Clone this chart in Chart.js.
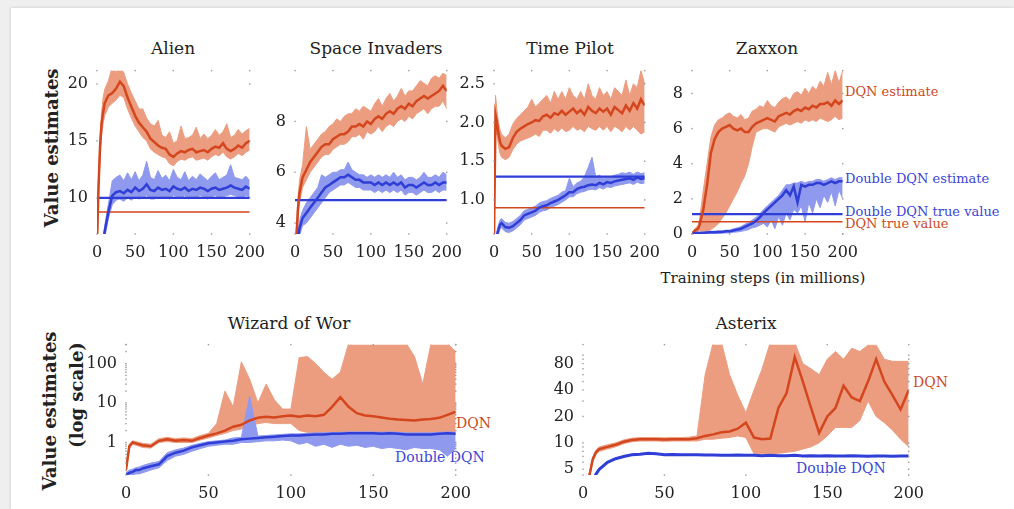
<!DOCTYPE html>
<html>
<head>
<meta charset="utf-8">
<script src="https://cdn.jsdelivr.net/npm/chart.js@4.4.1/dist/chart.umd.min.js"></script>
<style>
html, body { margin: 0; padding: 0; }
body { width: 1014px; height: 509px; background: #efefef; position: relative; overflow: hidden;
       font-family: 'DejaVu Serif', serif; color: #222; }
#card { position: absolute; left: 11px; top: 8px; right: 0; bottom: 0; background: #fff;
        box-shadow: 0 0 3px rgba(0,0,0,0.18); }
canvas { position: absolute; }
.t { position: absolute; white-space: nowrap; transform: translate(-50%, -50%); font-size: 17px; }
.l { position: absolute; white-space: nowrap; transform: translateY(-50%); }
.v { position: absolute; white-space: nowrap; transform: translate(-50%, -50%) rotate(-90deg);
     font-weight: bold; font-size: 18px; }
.red { color: #cc4a24; }
.blue { color: #3b45d6; }
</style>
</head>
<body>
<div id="card"></div>

<div class="t" style="left:173px;top:48px">Alien</div>
<div class="t" style="left:376px;top:48px">Space Invaders</div>
<div class="t" style="left:570px;top:48px">Time Pilot</div>
<div class="t" style="left:767px;top:48px">Zaxxon</div>
<div class="t" style="left:289px;top:323px">Wizard of Wor</div>
<div class="t" style="left:746px;top:323px">Asterix</div>

<div class="v" style="left:51px;top:148px">Value estimates</div>
<div class="v" style="left:49px;top:411px">Value estimates</div>
<div class="v" style="left:76px;top:395px;font-weight:bold">(log scale)</div>

<div class="l red" style="left:845px;top:91px;font-size:13px">DQN estimate</div>
<div class="l blue" style="left:845px;top:178px;font-size:13px">Double DQN estimate</div>
<div class="l blue" style="left:845px;top:211px;font-size:13px">Double DQN true value</div>
<div class="l red" style="left:845px;top:223px;font-size:13px">DQN true value</div>
<div class="t" style="left:763px;top:278px;font-size:15px">Training steps (in millions)</div>

<div class="l red" style="left:456px;top:423px;font-size:14px">DQN</div>
<div class="l blue" style="left:395px;top:457px;font-size:14px">Double DQN</div>
<div class="l red" style="left:913px;top:382px;font-size:14px">DQN</div>
<div class="l blue" style="left:796px;top:468px;font-size:14px">Double DQN</div>

<script>
// training steps (millions)
const steps = [0, 2, 4, 6, 8,
  10, 15, 20, 25, 30, 35, 40, 45, 50,
  55, 60, 65, 70, 75, 80, 85, 90, 95, 100,
  105, 110, 115, 120, 125, 130, 135, 140, 145, 150,
  155, 160, 165, 170, 175, 180, 185, 190, 195, 200];
const xTicks = [0, 50, 100, 150, 200];

// Alien
const alienDqn = [6.0, 11.0, 14.5, 16.5, 17.5,
  18.3, 19.0, 19.2, 19.6, 20.2, 19.8, 18.8, 18.0, 17.2,
  16.6, 16.2, 15.8, 15.2, 14.9, 14.6, 14.4, 14.3, 13.8, 13.6,
  13.9, 14.1, 14.0, 14.2, 14.3, 14.0, 14.1, 14.2, 14.0, 14.3,
  14.5, 14.4, 14.8, 14.3, 14.1, 14.3, 14.6, 14.4, 14.8, 15.0];
const alienDqnHi = [6.5, 12.0, 15.5, 17.5, 18.8,
  19.5, 20.3, 21.5, 21.0, 21.5, 21.0, 20.0, 19.2, 18.5,
  17.8, 17.8, 17.0, 16.5, 16.3, 16.8, 15.5, 15.3, 15.8, 14.8,
  15.0, 16.3, 15.2, 15.3, 15.5, 16.2, 15.2, 15.6, 15.2, 15.5,
  16.0, 15.5, 15.8, 16.5, 15.3, 15.5, 16.0, 15.6, 15.9, 16.1];
const alienDqnLo = [5.5, 10.0, 13.5, 15.5, 16.5,
  17.2, 18.0, 18.3, 18.6, 19.0, 18.8, 17.8, 17.0, 16.3,
  15.8, 15.3, 15.0, 14.3, 14.0, 13.8, 13.6, 13.5, 13.0, 12.8,
  13.2, 13.4, 13.3, 13.5, 13.6, 13.3, 13.4, 13.5, 13.3, 13.6,
  13.8, 13.7, 14.0, 13.6, 13.4, 13.6, 13.9, 13.7, 14.0, 14.2];
const alienDdqn = [2.0, 3.0, 4.0, 5.0, 6.0,
  7.0, 8.8, 10.2, 10.5, 10.6, 10.4, 10.7, 10.5, 10.9,
  10.6, 10.8, 11.2, 10.7, 10.6, 10.9, 10.7, 10.8, 10.6, 11.0,
  10.8, 10.7, 10.9, 10.6, 10.8, 10.7, 10.9, 10.8, 10.6, 10.8,
  10.9, 10.7, 10.8, 10.9, 11.1, 10.9, 10.8, 10.7, 11.0, 10.8];
const alienDdqnHi = [2.5, 3.5, 4.5, 5.5, 6.5,
  7.5, 9.5, 11.5, 11.8, 12.0, 11.5, 12.2, 11.6, 12.3,
  11.5, 12.0, 13.2, 11.8, 11.6, 12.4, 11.7, 12.0, 11.5, 12.5,
  11.8, 11.6, 12.3, 11.5, 11.9, 11.6, 12.1, 11.8, 11.5, 11.9,
  12.2, 11.6, 11.8, 12.0, 12.9, 11.8, 11.7, 11.6, 11.9, 11.5];
const alienDdqnLo = [1.5, 2.5, 3.5, 4.5, 5.5,
  6.5, 8.2, 9.4, 9.8, 9.9, 9.7, 10.0, 9.8, 10.1,
  9.9, 10.0, 10.2, 9.9, 9.9, 10.1, 10.0, 10.1, 9.9, 10.2,
  10.1, 10.0, 10.2, 9.9, 10.1, 10.0, 10.2, 10.1, 9.9, 10.1,
  10.2, 10.0, 10.1, 10.2, 10.3, 10.2, 10.1, 10.0, 10.2, 10.1];
const alienDqnTrue = 8.75, alienDdqnTrue = 10.0;
const alienTicks = [10, 15, 20];

// Space Invaders
const siDqn = [3.0, 3.5, 4.6, 5.2, 5.5,
  5.8, 6.1, 6.4, 6.6, 6.8, 7.0, 7.1, 7.1, 7.3,
  7.4, 7.5, 7.5, 7.6, 7.8, 7.8, 7.9, 7.8, 8.0, 7.9,
  8.1, 8.2, 8.1, 8.3, 8.4, 8.3, 8.5, 8.6, 8.5, 8.7,
  8.6, 8.8, 8.9, 9.0, 8.9, 9.0, 9.1, 9.2, 9.4, 9.2];
const siDqnHi = [3.3, 3.9, 5.0, 5.7, 6.0,
  6.3, 7.8, 6.9, 7.1, 7.3, 7.5, 7.6, 7.8, 7.9,
  8.1, 8.0, 8.2, 8.3, 8.3, 8.5, 8.4, 8.6, 8.5, 8.4,
  8.7, 8.9, 8.6, 8.9, 9.1, 8.8, 9.0, 9.3, 9.0, 9.2,
  9.2, 9.4, 9.6, 9.5, 9.4, 9.7, 9.8, 9.7, 9.9, 9.8];
const siDqnLo = [2.7, 3.1, 4.2, 4.8, 5.1,
  5.4, 5.7, 6.0, 6.2, 6.4, 6.6, 6.7, 6.7, 6.9,
  7.0, 7.1, 7.1, 7.2, 7.4, 7.4, 7.5, 7.3, 7.6, 7.5,
  7.6, 7.8, 7.6, 7.8, 7.9, 7.8, 8.0, 8.1, 8.0, 8.2,
  8.1, 8.3, 8.4, 8.5, 8.3, 8.5, 8.6, 8.6, 8.8, 8.5];
const siDdqn = [2.5, 3.0, 3.4, 3.8, 4.0,
  4.2, 4.4, 4.6, 4.8, 5.0, 5.2, 5.4, 5.5, 5.6,
  5.7, 5.8, 5.8, 5.9, 5.8, 5.7, 5.7, 5.6, 5.6, 5.6,
  5.5, 5.6, 5.5, 5.6, 5.5, 5.6, 5.5, 5.6, 5.4, 5.5,
  5.5, 5.4, 5.5, 5.6, 5.5, 5.5, 5.6, 5.5, 5.6, 5.6];
const siDdqnHi = [2.7, 3.3, 3.7, 4.1, 4.3,
  4.5, 4.8, 5.0, 5.2, 5.4, 5.9, 5.8, 5.9, 6.0,
  6.0, 6.1, 6.1, 6.4, 6.1, 6.0, 5.9, 5.9, 5.8, 5.9,
  5.8, 5.9, 5.8, 5.9, 5.8, 6.0, 5.8, 5.9, 5.7, 5.8,
  5.8, 5.7, 5.8, 6.0, 5.8, 5.8, 5.9, 5.8, 6.0, 5.9];
const siDdqnLo = [2.3, 2.7, 3.1, 3.5, 3.7,
  3.9, 4.0, 4.2, 4.4, 4.6, 4.8, 5.0, 5.2, 5.3,
  5.4, 5.5, 5.5, 5.6, 5.5, 5.4, 5.4, 5.3, 5.3, 5.3,
  5.2, 5.3, 5.2, 5.3, 5.2, 5.3, 5.2, 5.3, 5.1, 5.2,
  5.2, 5.1, 5.2, 5.3, 5.2, 5.2, 5.3, 5.2, 5.3, 5.3];
const siDqnTrue = 4.9, siDdqnTrue = 4.9;
const siTicks = [4, 6, 8];

// Time Pilot
const tpDqn = [0.5, 2.1, 2.0, 1.85, 1.75,
  1.7, 1.66, 1.68, 1.8, 1.88, 1.92, 1.95, 1.98, 2.0,
  2.03, 2.02, 2.08, 2.1, 2.06, 2.12, 2.1, 2.15, 2.1, 2.14,
  2.18, 2.12, 2.16, 2.1, 2.2, 2.15, 2.12, 2.18, 2.14, 2.18,
  2.1, 2.2, 2.16, 2.12, 2.22, 2.15, 2.25, 2.18, 2.3, 2.22];
const tpDqnHi = [0.6, 2.35, 2.15, 2.0, 1.9,
  1.85, 1.8, 1.85, 1.98, 2.05, 2.1, 2.15, 2.2, 2.3,
  2.2, 2.25, 2.3, 2.35, 2.25, 2.4, 2.3, 2.4, 2.3, 2.45,
  2.35, 2.3, 2.4, 2.3, 2.5, 2.35, 2.3, 2.45, 2.35, 2.4,
  2.3, 2.45, 2.4, 2.35, 2.55, 2.35, 2.5, 2.45, 2.67, 2.5];
const tpDqnLo = [0.4, 1.85, 1.85, 1.7, 1.6,
  1.55, 1.52, 1.55, 1.65, 1.72, 1.76, 1.78, 1.8, 1.82,
  1.85, 1.82, 1.9, 1.9, 1.86, 1.92, 1.88, 1.93, 1.88, 1.9,
  1.95, 1.9, 1.92, 1.88, 1.95, 1.92, 1.9, 1.95, 1.9, 1.95,
  1.88, 1.95, 1.92, 1.88, 1.95, 1.9, 1.95, 1.9, 1.85, 1.88];
const tpDdqn = [0.3, 0.4, 0.55, 0.62, 0.68,
  0.7, 0.65, 0.64, 0.66, 0.7, 0.74, 0.8, 0.82, 0.84,
  0.86, 0.9, 0.92, 0.93, 0.96, 0.98, 1.0, 1.03, 1.06, 1.1,
  1.1, 1.14, 1.16, 1.17, 1.19, 1.2, 1.19, 1.22, 1.2, 1.23,
  1.22, 1.24, 1.25, 1.26, 1.27, 1.28, 1.26, 1.29, 1.27, 1.28];
const tpDdqnHi = [0.35, 0.45, 0.6, 0.68, 0.74,
  0.76, 0.71, 0.7, 0.72, 0.76, 0.8, 0.86, 0.88, 0.9,
  0.92, 0.96, 0.98, 0.99, 1.02, 1.04, 1.06, 1.1, 1.12, 1.28,
  1.17, 1.22, 1.24, 1.3, 1.42, 1.55, 1.3, 1.32, 1.28, 1.3,
  1.3, 1.32, 1.33, 1.35, 1.34, 1.36, 1.33, 1.36, 1.34, 1.35];
const tpDdqnLo = [0.25, 0.35, 0.5, 0.56, 0.62,
  0.64, 0.59, 0.58, 0.6, 0.64, 0.68, 0.74, 0.76, 0.78,
  0.8, 0.84, 0.86, 0.87, 0.9, 0.92, 0.94, 0.97, 1.0, 1.04,
  1.04, 1.08, 1.1, 1.11, 1.13, 1.14, 1.13, 1.16, 1.14, 1.17,
  1.16, 1.18, 1.19, 1.2, 1.21, 1.22, 1.2, 1.23, 1.21, 1.22];
const tpDqnTrue = 0.9, tpDdqnTrue = 1.3;
const tpTicks = [1.0, 1.5, 2.0, 2.5];

// Zaxxon
const zxDqn = [0.0, 0.1, 0.2, 0.25, 0.3,
  0.5, 1.4, 2.8, 4.6, 5.4, 5.8, 6.0, 6.1, 6.2,
  6.0, 5.9, 6.0, 5.8, 5.8, 6.1, 6.3, 6.4, 6.5, 6.6,
  6.5, 6.4, 6.7, 6.8, 6.9, 6.8, 7.0, 7.1, 7.0, 7.2,
  7.1, 7.3, 7.2, 7.4, 7.4, 7.5, 7.3, 7.6, 7.4, 7.6];
const zxDqnHi = [0.1, 0.2, 0.3, 0.4, 0.5,
  0.8, 2.5, 4.0, 5.5, 6.2, 6.5, 6.6, 6.8, 6.9,
  6.7, 6.6, 6.8, 6.5, 6.6, 7.0, 7.1, 7.3, 7.2, 7.6,
  7.3, 7.2, 7.5, 7.7, 7.8, 7.6, 8.0, 8.1, 7.9, 8.3,
  8.0, 8.4, 8.2, 8.7, 8.4, 9.2, 8.5, 9.3, 8.6, 9.3];
const zxDqnLo = [0.0, 0.0, 0.0, 0.05, 0.1,
  0.2, 0.1, 0.1, 0.25, 0.4, 0.6, 0.9, 1.2, 1.6,
  2.0, 2.4, 2.9, 3.3, 4.0, 5.0, 5.8, 5.9, 6.0, 6.0,
  5.9, 5.8, 6.1, 6.2, 6.3, 6.2, 6.3, 6.4, 6.3, 6.5,
  6.4, 6.5, 6.4, 6.6, 6.5, 6.4, 6.5, 6.7, 6.5, 6.6];
const zxDdqn = [0.0, 0.02, 0.05, 0.05, 0.05,
  0.05, 0.06, 0.08, 0.1, 0.1, 0.12, 0.12, 0.15, 0.15,
  0.2, 0.25, 0.3, 0.4, 0.5, 0.6, 0.75, 0.95, 1.2, 1.4,
  1.6, 1.8, 2.0, 2.2, 2.5, 2.2, 2.7, 1.8, 2.8, 2.7,
  2.8, 2.8, 2.9, 2.9, 2.8, 2.9, 3.0, 2.9, 3.0, 3.0];
const zxDdqnHi = [0.05, 0.08, 0.1, 0.1, 0.1,
  0.1, 0.12, 0.14, 0.16, 0.16, 0.18, 0.18, 0.22, 0.22,
  0.3, 0.35, 0.42, 0.55, 0.65, 0.8, 0.95, 1.15, 1.4, 1.6,
  1.8, 2.0, 2.2, 2.5, 2.8, 2.8, 2.9, 2.9, 3.0, 2.9,
  3.0, 3.0, 3.1, 3.1, 3.0, 3.1, 3.2, 3.1, 3.2, 3.2];
const zxDdqnLo = [0.0, 0.0, 0.0, 0.0, 0.0,
  0.0, 0.0, 0.0, 0.02, 0.03, 0.04, 0.05, 0.06, 0.06,
  0.1, 0.12, 0.15, 0.2, 0.25, 0.35, 0.4, 0.5, 0.6, 0.4,
  0.8, 0.3, 1.0, 0.5, 1.2, 0.8, 1.4, 1.2, 1.6, 0.7,
  1.8, 1.2, 2.0, 1.5, 2.2, 1.8, 2.4, 1.6, 2.5, 2.0];
const zxDqnTrue = 0.7, zxDdqnTrue = 1.13;
const zxTicks = [0, 2, 4, 6, 8];

// Wizard of Wor (log scale)
const wowDqn = [0.2, 0.8, 1.0, 0.95, 0.9,
  0.85, 0.8, 1.1, 1.2, 1.1, 1.15, 1.1, 1.3, 1.5,
  1.7, 2.0, 2.5, 2.8, 3.6, 4.2, 4.5, 4.3, 4.6, 4.8,
  4.5, 4.8, 4.6, 5.0, 8.0, 14.0, 8.0, 5.5, 4.8, 4.6,
  4.3, 4.0, 3.8, 3.7, 3.6, 3.8, 3.9, 4.2, 5.0, 6.0];
const wowDqnHi = [0.22, 0.9, 1.1, 1.05, 1.0,
  0.95, 0.9, 1.25, 1.35, 1.25, 1.3, 1.25, 1.5, 1.7,
  3.0, 20, 8, 110, 40, 10, 30, 12, 7, 7,
  140, 150, 100, 60, 40, 60, 320, 320, 320, 320,
  320, 320, 320, 320, 150, 30, 320, 320, 320, 200];
const wowDqnLo = [0.18, 0.7, 0.9, 0.85, 0.8,
  0.75, 0.72, 1.0, 1.05, 1.0, 1.0, 1.0, 1.15, 1.3,
  1.5, 1.7, 2.0, 2.2, 2.6, 3.0, 3.2, 3.0, 3.0, 3.0,
  2.0, 1.8, 1.7, 1.7, 1.7, 1.7, 1.8, 1.8, 1.7, 1.7,
  1.6, 1.6, 1.6, 1.5, 1.5, 1.5, 1.5, 1.6, 1.6, 1.6];
const wowDdqn = [0.15, 0.17, 0.18, 0.2, 0.2,
  0.22, 0.25, 0.28, 0.45, 0.55, 0.62, 0.75, 0.85, 0.95,
  1.0, 1.05, 1.1, 1.2, 1.25, 1.3, 1.35, 1.4, 1.45, 1.5,
  1.5, 1.55, 1.6, 1.6, 1.65, 1.65, 1.7, 1.7, 1.7, 1.7,
  1.65, 1.7, 1.65, 1.6, 1.6, 1.6, 1.6, 1.65, 1.7, 1.65];
const wowDdqnHi = [0.17, 0.2, 0.21, 0.23, 0.24,
  0.26, 0.3, 0.33, 0.55, 0.65, 0.72, 0.85, 0.95, 1.05,
  1.1, 1.15, 1.3, 1.35, 15, 1.45, 1.5, 1.55, 1.6, 1.65,
  1.65, 1.7, 1.75, 1.75, 1.8, 1.8, 1.85, 1.85, 1.85, 1.85,
  1.8, 1.85, 1.8, 1.75, 1.75, 1.75, 1.75, 1.8, 1.85, 1.8];
const wowDdqnLo = [0.13, 0.14, 0.15, 0.16, 0.16,
  0.17, 0.2, 0.23, 0.35, 0.45, 0.5, 0.6, 0.7, 0.8,
  0.85, 0.9, 0.9, 1.0, 1.0, 1.05, 1.1, 1.1, 1.15, 1.1,
  0.9, 1.0, 0.8, 0.9, 0.75, 0.9, 0.8, 0.85, 0.75, 0.8,
  0.7, 0.75, 0.7, 0.65, 0.75, 0.7, 0.7, 0.65, 0.45, 0.7];
const wowTicks = [1, 10, 100];

// Asterix (log scale)
const astDqn = [3.0, 3.5, 4.3, 6.5, 7.8,
  8.5, 9.0, 9.5, 10.3, 10.8, 11.0, 11.0, 11.0, 10.9,
  11.0, 11.0, 11.0, 11.3, 12.0, 12.5, 13.2, 13.5, 14.5, 17.0,
  11.5, 11.0, 11.2, 25, 37, 95, 50, 25, 13, 20,
  25, 45, 33, 30, 50, 90, 50, 35, 24, 40];
const astDqnHi = [3.2, 3.7, 4.6, 6.9, 8.3,
  9.0, 9.5, 10.0, 10.8, 11.3, 11.5, 11.5, 11.5, 11.4,
  11.5, 11.5, 11.6, 12, 60, 140, 140, 60, 35, 22,
  40, 70, 140, 140, 140, 140, 80, 70, 60, 90,
  110, 90, 120, 110, 130, 130, 90, 85, 85, 85];
const astDqnLo = [2.8, 3.3, 4.0, 6.1, 7.4,
  8.0, 8.5, 9.0, 9.8, 10.3, 10.5, 10.5, 10.5, 10.4,
  10.5, 10.5, 10.5, 10.5, 11, 11, 11.3, 11.5, 12, 11.5,
  7.5, 7.5, 7.5, 7.6, 7.8, 8, 8.5, 9, 10, 12,
  15, 15, 15, 18, 30, 20, 17, 14, 11, 9];
const astDdqn = [2.0, 2.5, 3.0, 3.8, 4.4,
  5.0, 6.0, 6.6, 7.0, 7.3, 7.4, 7.6, 7.5, 7.3,
  7.35, 7.3, 7.3, 7.3, 7.25, 7.25, 7.2, 7.2, 7.25, 7.2,
  7.2, 7.15, 7.2, 7.15, 7.15, 7.2, 7.1, 7.15, 7.1, 7.15,
  7.1, 7.1, 7.15, 7.1, 7.05, 7.1, 7.1, 7.05, 7.1, 7.1];
const astTicks = [5, 10, 20, 40, 80];

const RED = '#d4461d', RED_BAND = '#ec9d80';
const BLUE = '#2f3ed6', BLUE_BAND = '#8f99ee';

Chart.defaults.font.family = "'DejaVu Serif', serif";
Chart.defaults.color = '#222';

function pts(arr) { return steps.map((x, i) => ({ x: x, y: arr[i] })); }
function flat(v) { return [{ x: 0, y: v }, { x: 200, y: v }]; }

function line(data, color, width, order) {
  return { data: data, borderColor: color, borderWidth: width, fill: false, order: order,
           pointRadius: 0, tension: 0 };
}
function band(arr, color, order, fill) {
  return { data: pts(arr), borderColor: color, borderWidth: 1, backgroundColor: color,
           fill: fill, order: order, pointRadius: 0, tension: 0 };
}

function minorLog(lo, hi) {
  const out = [];
  [0.1, 1, 10, 100].forEach(d => {
    for (let k = 1; k <= 9; k++) { const v = k * d; if (v >= lo && v <= hi) out.push(v); }
  });
  return out;
}

// small grey dots on the frame at tick positions
const edgeDots = {
  id: 'edgeDots',
  afterDatasetsDraw(chart, args, opts) {
    const a = chart.chartArea, x = chart.scales.x, y = chart.scales.y, ctx = chart.ctx;
    ctx.save();
    ctx.fillStyle = '#999';
    const dot = (px, py) => ctx.fillRect(px - 0.7, py - 0.7, 1.4, 1.4);
    x.ticks.forEach(t => { const px = x.getPixelForValue(t.value); dot(px, a.top); dot(px, a.bottom); });
    (opts.ys || []).forEach(v => { const py = y.getPixelForValue(v); dot(a.left, py); dot(a.right, py); });
    ctx.restore();
  }
};

function panel(p) {
  const padTop = 10, padRight = 24;
  const W = p.yw + p.w + padRight, H = padTop + p.h + p.xh;
  const c = document.createElement('canvas');
  c.width = W; c.height = H;
  c.style.left = (p.left - p.yw) + 'px';
  c.style.top = (p.top - padTop) + 'px';
  c.style.width = W + 'px';
  c.style.height = H + 'px';
  document.body.appendChild(c);

  const ds = [];
  ds.push(line(pts(p.ddqn), BLUE, p.ddqnWidth || 2.5, 0));
  ds.push(line(pts(p.dqn), RED, 2.5, 1));
  if (p.ddqnTrue !== undefined) ds.push(line(flat(p.ddqnTrue), BLUE, 2.2, 2));
  if (p.dqnTrue !== undefined) ds.push(line(flat(p.dqnTrue), RED, 1.5, 3));
  if (p.ddqnHi) { ds.push(band(p.ddqnHi, BLUE_BAND, 4, '+1')); ds.push(band(p.ddqnLo, BLUE_BAND, 5, false)); }
  if (p.dqnHi) { ds.push(band(p.dqnHi, RED_BAND, 6, '+1')); ds.push(band(p.dqnLo, RED_BAND, 7, false)); }

  new Chart(c, {
    type: 'line',
    data: { datasets: ds },
    plugins: [edgeDots],
    options: {
      responsive: false,
      animation: false,
      devicePixelRatio: 1,
      layout: { padding: { top: padTop, right: padRight, left: 0, bottom: 0 } },
      plugins: {
        legend: { display: false },
        tooltip: { enabled: false },
        edgeDots: { ys: p.dots || p.yticks }
      },
      scales: {
        x: {
          type: 'linear', min: 0, max: 200,
          grid: { display: false, drawTicks: false },
          border: { display: false },
          afterBuildTicks: s => { s.ticks = xTicks.map(v => ({ value: v })); },
          afterFit: s => { s.height = p.xh; },
          ticks: { padding: p.xpad, autoSkip: false, maxRotation: 0, font: { size: 16 }, color: '#222',
                   callback: v => String(v) }
        },
        y: {
          type: p.log ? 'logarithmic' : 'linear', min: p.ymin, max: p.ymax,
          grid: { display: false, drawTicks: false },
          border: { display: false },
          afterBuildTicks: s => { s.ticks = p.yticks.map(v => ({ value: v })); },
          afterFit: s => { s.width = p.yw; },
          ticks: { padding: 9, autoSkip: false, font: { size: 16 }, color: '#222',
                   callback: v => p.fmt ? p.fmt(v) : String(v) }
        }
      }
    }
  });
}

const top1 = 62, h1 = 172, top2 = 336, h2 = 139;

panel({ left: 97, top: top1, w: 153, h: h1, yw: 45, xh: 30, xpad: 9,
  ymin: 6.83, ymax: 21.17, yticks: alienTicks,
  dqn: alienDqn, dqnHi: alienDqnHi, dqnLo: alienDqnLo,
  ddqn: alienDdqn, ddqnHi: alienDdqnHi, ddqnLo: alienDdqnLo,
  dqnTrue: alienDqnTrue, ddqnTrue: alienDdqnTrue });

panel({ left: 295, top: top1, w: 152, h: h1, yw: 45, xh: 30, xpad: 9,
  ymin: 3.57, ymax: 10.0, yticks: siTicks,
  dqn: siDqn, dqnHi: siDqnHi, dqnLo: siDqnLo,
  ddqn: siDdqn, ddqnHi: siDdqnHi, ddqnLo: siDdqnLo,
  dqnTrue: siDqnTrue, ddqnTrue: siDdqnTrue });

panel({ left: 494, top: top1, w: 151, h: h1, yw: 45, xh: 30, xpad: 9,
  ymin: 0.56, ymax: 2.67, yticks: tpTicks, fmt: v => v.toFixed(1),
  dqn: tpDqn, dqnHi: tpDqnHi, dqnLo: tpDqnLo,
  ddqn: tpDdqn, ddqnHi: tpDdqnHi, ddqnLo: tpDdqnLo,
  dqnTrue: tpDqnTrue, ddqnTrue: tpDdqnTrue });

panel({ left: 692, top: top1, w: 151, h: h1, yw: 45, xh: 30, xpad: 9,
  ymin: 0, ymax: 9.3, yticks: zxTicks,
  dqn: zxDqn, dqnHi: zxDqnHi, dqnLo: zxDqnLo,
  ddqn: zxDdqn, ddqnHi: zxDdqnHi, ddqnLo: zxDdqnLo,
  dqnTrue: zxDqnTrue, ddqnTrue: zxDdqnTrue });

panel({ left: 126, top: top2, w: 330, h: h2, yw: 50, xh: 30, xpad: 9,
  log: true, ymin: 0.15, ymax: 300, yticks: wowTicks, dots: minorLog(0.15, 300),
  dqn: wowDqn, dqnHi: wowDqnHi, dqnLo: wowDqnLo,
  ddqn: wowDdqn, ddqnHi: wowDdqnHi, ddqnLo: wowDdqnLo });

panel({ left: 583, top: top2, w: 326, h: h2, yw: 50, xh: 30, xpad: 9,
  log: true, ymin: 4.3, ymax: 132, yticks: astTicks, dots: minorLog(4.3, 132),
  dqn: astDqn, dqnHi: astDqnHi, dqnLo: astDqnLo,
  ddqn: astDdqn, ddqnWidth: 3 });

// sanity check on the hand-typed arrays
const all = { alienDqn, alienDqnHi, alienDqnLo, alienDdqn, alienDdqnHi, alienDdqnLo,
  siDqn, siDqnHi, siDqnLo, siDdqn, siDdqnHi, siDdqnLo,
  tpDqn, tpDqnHi, tpDqnLo, tpDdqn, tpDdqnHi, tpDdqnLo,
  zxDqn, zxDqnHi, zxDqnLo, zxDdqn, zxDdqnHi, zxDdqnLo,
  wowDqn, wowDqnHi, wowDqnLo, wowDdqn, wowDdqnHi, wowDdqnLo,
  astDqn, astDqnHi, astDqnLo, astDdqn };
const bad = Object.keys(all).filter(k => all[k].length !== steps.length);
if (bad.length) throw new Error('length mismatch: ' + bad.join(', '));
</script>
</body>
</html>
